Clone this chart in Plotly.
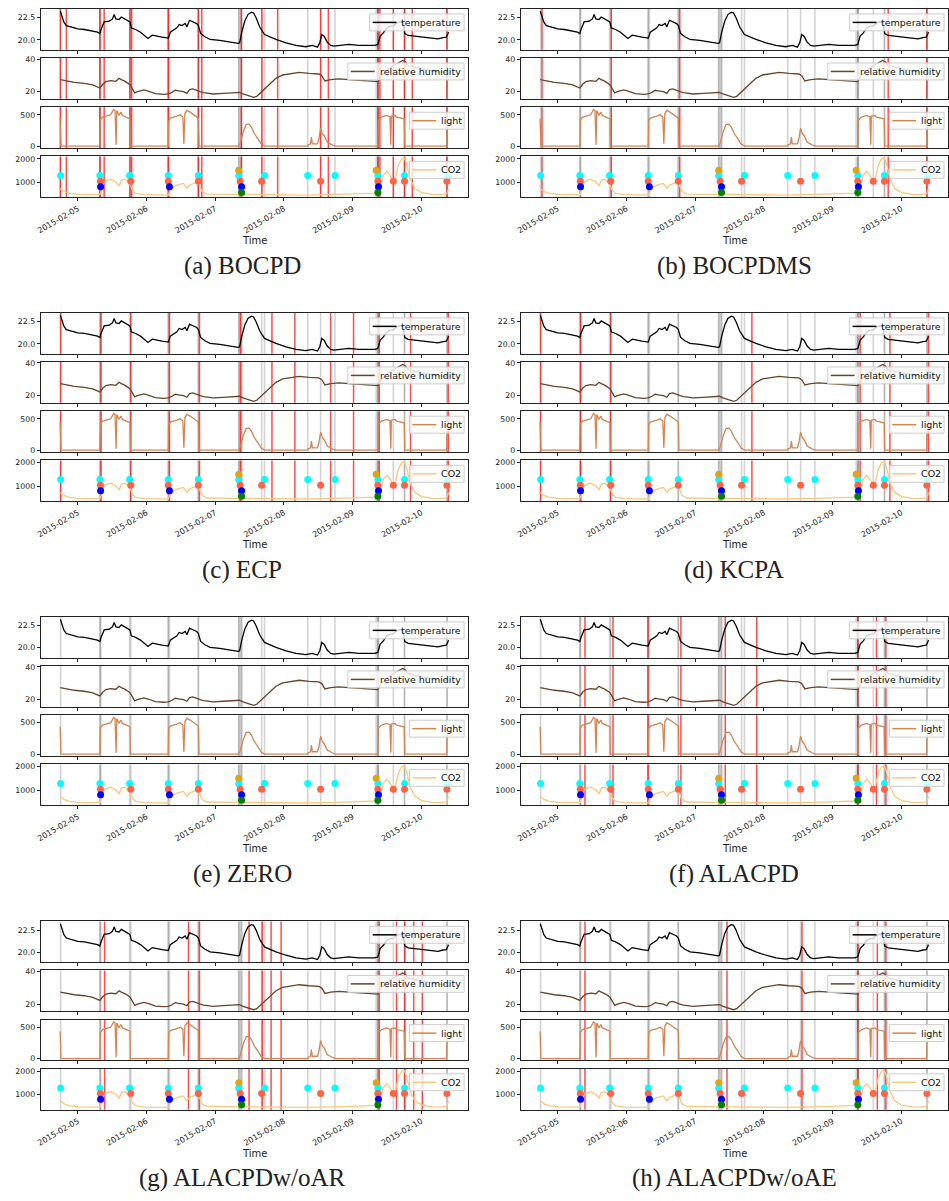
import pandas as pd
import plotly.graph_objects as go

START = pd.Timestamp("2015-02-05 00:00")

# ---------------- data (time in hours relative to 2015-02-05 00:00) ----------------
TEMP_H = [-6.1, -5.5, -4.85, -4.0, -2.3, 0.0, 2.3, 4.6, 6.9, 7.7, 8.1, 9.2, 11.0, 12.1, 12.7, 13.3, 14.4, 15.2,
          16.2, 17.5, 18.2, 18.7, 20.2, 21.9, 23.1, 24.5, 26.0, 27.7, 29.4, 31.2, 31.6, 32.3, 33.5, 34.6, 35.4,
          36.4, 37.5, 38.1, 39.0, 40.2, 41.5, 42.1, 42.9, 44.4, 46.2, 49.6, 53.1, 56.0, 56.5, 57.2, 58.3, 59.4,
          60.6, 61.4, 62.3, 63.5, 65.2, 66.9, 69.2, 72.7, 76.2, 79.6, 81.9, 83.7, 84.5, 85.2, 86.0, 87.1, 88.3,
          89.4, 91.2, 94.6, 98.1, 101.5, 103.8, 104.8, 105.6, 106.7, 107.9, 109.0, 110.2, 111.3, 112.5, 113.5,
          114.2, 115.4, 118.8, 122.3, 125.8, 127.5, 128.7, 129.5]
TEMP_V = [23.21, 22.65, 21.98, 21.60, 21.42, 21.23, 21.16, 21.01, 20.86, 20.71, 21.16, 22.01, 22.09, 22.35, 22.84,
          22.35, 22.28, 22.57, 22.39, 22.20, 22.01, 21.34, 21.16, 20.86, 20.52, 20.15, 20.52, 20.45, 20.30, 20.22,
          20.19, 20.86, 21.16, 21.34, 21.72, 21.60, 21.83, 21.46, 22.20, 22.01, 21.83, 21.60, 20.71, 20.34, 20.04,
          19.93, 19.78, 19.59, 19.66, 20.78, 22.09, 22.84, 23.10, 23.02, 22.46, 21.46, 20.60, 20.34, 20.04, 19.66,
          19.37, 19.22, 19.37, 19.18, 19.66, 20.60, 20.41, 19.74, 19.37, 19.29, 19.37, 19.48, 19.37, 19.40, 19.37,
          19.48, 20.41, 20.78, 21.34, 21.53, 21.55, 21.90, 22.00, 21.95, 20.70, 20.49, 20.34, 20.25, 20.10, 20.25,
          20.30, 20.85]

RH_H = [-6.1, -4.0, -1.2, 2.3, 5.2, 7.7, 8.7, 9.8, 11.5, 13.3, 14.4, 15.2, 16.7, 18.2, 19.9, 20.8, 23.1, 24.8,
        27.1, 30.0, 31.6, 32.9, 34.0, 35.2, 36.9, 38.1, 39.0, 40.2, 41.5, 42.7, 43.9, 47.3, 50.8, 54.2, 56.5, 57.7,
        60.0, 61.4, 62.5, 64.0, 65.8, 67.5, 69.2, 71.5, 75.0, 77.3, 80.8, 84.2, 85.2, 86.3, 88.3, 91.2, 94.6, 98.1,
        101.5, 104.8, 105.6, 107.9, 110.2, 112.5, 113.5, 114.5, 115.4, 117.7, 120.0, 124.6, 129.5]
RH_V = [27.35, 26.53, 25.71, 25.10, 24.08, 22.24, 24.49, 26.12, 26.73, 26.33, 28.16, 27.35, 26.12, 24.29, 19.18,
        20.0, 21.02, 20.20, 18.78, 18.37, 18.57, 19.59, 20.82, 20.41, 20.0, 18.98, 21.22, 21.63, 21.02, 20.0, 19.39,
        18.57, 18.98, 19.39, 19.59, 18.57, 17.14, 16.53, 17.14, 19.59, 22.65, 25.71, 28.16, 30.20, 31.43, 31.84,
        31.22, 30.82, 29.80, 26.53, 27.35, 27.76, 27.35, 26.94, 26.53, 26.12, 29.0, 33.0, 36.0, 38.5, 39.1, 38.0,
        36.0, 35.0, 34.0, 32.5, 31.5]

LIGHT_H = [-6.15, -5.9, 7.7, 7.85, 8.65, 10.4, 11.5, 12.5, 13.0, 13.38, 13.62, 14.4, 15.0, 15.6, 16.7, 18.2, 18.35,
           31.6, 31.73, 32.3, 34.6, 35.8, 36.7, 37.04, 37.4, 38.1, 39.2, 41.0, 42.1, 42.34, 56.3, 56.8, 57.7, 58.8,
           59.8, 60.6, 61.7, 62.9, 64.0, 65.2, 80.3, 80.5, 81.3, 81.57, 81.9, 83.7, 84.2, 84.8, 85.4, 86.0, 87.1,
           88.8, 90.0, 104.8, 104.9, 106.1, 107.9, 109.0, 109.3, 109.5, 110.8, 111.3, 113.1, 114.0, 114.2, 128.8,
           129.0]
LIGHT_V = [436, 0, 0, 420, 463, 479, 500, 585, 569, 21, 569, 489, 543, 489, 463, 436, 0, 0, 404, 447, 479, 500,
           463, 37, 516, 569, 543, 489, 447, 0, 0, 64, 223, 346, 351, 303, 197, 117, 37, 0, 0, 21, 37, 144, 37, 37,
           117, 287, 197, 170, 64, 21, 0, 0, 410, 463, 489, 468, 21, 479, 489, 463, 447, 436, 0, 0, 410]

CO2_H = [-6.1, -4.6, -2.9, 0.0, 3.5, 7.7, 8.1, 9.2, 10.4, 11.5, 13.3, 14.4, 15.2, 16.4, 17.5, 18.2, 19.0, 20.2,
         23.1, 27.7, 31.6, 32.3, 33.5, 34.6, 35.8, 36.9, 38.1, 39.0, 40.4, 41.5, 42.3, 43.3, 45.0, 48.5, 55.4, 56.3,
         60.0, 66.9, 78.5, 90.0, 101.5, 104.8, 105.6, 106.7, 107.9, 109.0, 110.2, 110.8, 111.9, 113.1, 114.0, 114.8,
         116.0, 117.7, 120.0, 123.5, 126.9, 128.8, 129.5]
CO2_V = [732, 592, 521, 479, 465, 465, 592, 1014, 1085, 1127, 1014, 845, 1085, 1127, 1014, 944, 662, 521, 465, 451,
         451, 662, 803, 873, 901, 944, 732, 873, 944, 1014, 944, 620, 493, 479, 465, 479, 479, 465, 451, 479, 521,
         535, 803, 1296, 1465, 1296, 1014, 1085, 1718, 2000, 2028, 1789, 1155, 732, 563, 479, 465, 507, 732]

# annotator change points (hours) and the CO2 level where each annotator's dots are drawn
CYAN_H = [-6.0, 7.7, 18.1, 31.6, 42.1, 56.2, 65.2, 80.3, 89.8, 104.8, 114.1, 129.0]
TOMATO_H = [7.9, 18.5, 31.6, 42.1, 56.7, 64.2, 84.8, 104.8, 110.2, 114.1, 128.9]
BLUE_H = [7.96, 32.0, 57.2, 105.0]
GOLD_H = [56.2, 104.2]
GREEN_H = [57.2, 104.8]
ANNOT_LEVELS = [1282, 1042, 803, 1507, 563]
ANNOT_COLORS = ["#00FFFF", "#FF6347", "#0000FF", "#DAA520", "#008000"]

# detected change points (hours) per method
RED_A = [-6.1, -4.0, 7.7, 9.2, 18.2, 18.8, 31.6, 42.1, 43.3, 57.1, 64.3, 69.8, 84.8, 87.5, 104.8, 105.5, 110.2,
         114.1, 116.8, 128.9]
RED_B = [-5.5, 18.7, 42.6, 115.4, 128.9]
RED_C = [-6.0, 8.1, 18.5, 32.0, 42.5, 56.8, 67.8, 75.8, 88.3, 96.3, 105.3, 116.2, 129.4]
RED_D = [-6.0, 8.0, 18.5, 67.8, 105.6, 116.0, 129.5]
RED_E = []
RED_F = [9.5, 19.3, 31.5, 43.0, 58.5, 69.5, 104.8, 111.3, 114.6]
RED_G = [9.35, 38.65, 42.5, 59.8, 64.4, 67.5, 71.0, 105.3, 111.3, 114.2, 117.3, 120.3]
RED_H = [9.5, 59.1, 85.3, 104.8, 111.6, 114.6]

CAPTIONS = ["(a) BOCPD", "(b) BOCPDMS", "(c) ECP", "(d) KCPA", "(e) ZERO", "(f) ALACPD",
            "(g) ALACPDw/oAR", "(h) ALACPDw/oAE"]
REDS = [RED_A, RED_B, RED_C, RED_D, RED_E, RED_F, RED_G, RED_H]

SERIES_NAMES = ["temperature", "relative humidity", "light", "CO2"]
SERIES_COLORS = ["#000000", "#69432A", "#D38555", "#FFC77F"]
Y_RANGES = [[18.88, 23.47], [15.6, 40.6], [-31, 620], [357, 2100]]
Y_TICKVALS = [[20.0, 22.5], [20, 40], [0, 500], [1000, 2000]]
Y_TICKTEXT = [["20.0", "22.5"], ["20", "40"], ["0", "500"], ["1000", "2000"]]
X_TICKS = ["2015-02-05", "2015-02-06", "2015-02-07", "2015-02-08", "2015-02-09", "2015-02-10"]

SERIES_H = [TEMP_H, RH_H, LIGHT_H, CO2_H]
SERIES_V = [TEMP_V, RH_V, LIGHT_V, CO2_V]
ANNOT_H = [CYAN_H, TOMATO_H, BLUE_H, GOLD_H, GREEN_H]
for hh, vv in zip(SERIES_H, SERIES_V):
    assert len(hh) == len(vv)


def to_time(hours):
    return [START + pd.Timedelta(hours=h) for h in hours]


# ---------------- layout geometry (pixels) ----------------
W, H = 949, 1201
PANEL_TOP = [6, 311.5, 617, 923]
PANEL_LEFT = [36, 519]
PW = 430
SUB_OFF = [0, 49.3, 98.8, 148.2]
SUB_H = 41
CAPTION_X = [239, 734]
LEGEND_W = [95, 117, 55, 55]      # legend box widths (px) per series
LEG_H = 17


def px(x):
    return x / W


def py(y):
    return 1 - y / H


all_h = TEMP_H + RH_H + LIGHT_H + CO2_H
h_lo, h_hi = min(all_h), max(all_h)
pad = 0.05 * (h_hi - h_lo)
X_RANGE = [START + pd.Timedelta(hours=h_lo - pad), START + pd.Timedelta(hours=h_hi + pad)]

ANNOT_ALL = [h for lst in ANNOT_H for h in lst]

fig = go.Figure()
layout = dict(width=W, height=H, autosize=False, margin=dict(l=0, r=0, t=0, b=0),
              paper_bgcolor="white", plot_bgcolor="white", showlegend=False,
              font=dict(family="DejaVu Sans", size=8, color="#222222"))
shapes = []
annotations = []

series_times = [to_time(hh) for hh in SERIES_H]

for p, caption in enumerate(CAPTIONS):
    row, col = divmod(p, 2)
    top = PANEL_TOP[row]
    left = PANEL_LEFT[col]
    for j in range(4):
        k = p * 4 + j + 1
        s = "" if k == 1 else str(k)
        xref, yref = "x" + s, "y" + s
        y_top = top + SUB_OFF[j]
        y_bot = y_top + SUB_H
        layout["xaxis" + s] = dict(
            domain=[px(left), px(left + PW)], anchor=yref, type="date", range=X_RANGE,
            showline=True, mirror=True, linecolor="#222222", linewidth=1,
            ticks="outside", ticklen=3, tickwidth=1, tickcolor="#222222",
            tickvals=X_TICKS, tickformat="%Y-%m-%d", showticklabels=(j == 3), tickangle=-30,
            tickfont=dict(size=8, family="DejaVu Sans", color="#222222"),
            showgrid=False, zeroline=False, fixedrange=True)
        layout["yaxis" + s] = dict(
            domain=[py(y_bot), py(y_top)], anchor=xref, range=Y_RANGES[j],
            showline=True, mirror=True, linecolor="#222222", linewidth=1,
            ticks="outside", ticklen=3, tickwidth=1, tickcolor="#222222",
            tickvals=Y_TICKVALS[j], ticktext=Y_TICKTEXT[j],
            tickfont=dict(size=7.8, family="DejaVu Sans", color="#222222"),
            showgrid=False, zeroline=False, fixedrange=True)

        fig.add_trace(go.Scatter(
            x=series_times[j], y=SERIES_V[j], mode="lines",
            line=dict(color=SERIES_COLORS[j], width=1.3),
            name=SERIES_NAMES[j], xaxis=xref, yaxis=yref, showlegend=False))

        if j == 3:
            for hh, lvl, colr in zip(ANNOT_H, ANNOT_LEVELS, ANNOT_COLORS):
                fig.add_trace(go.Scatter(
                    x=to_time(hh), y=[lvl] * len(hh), mode="markers",
                    marker=dict(color=colr, size=7, line=dict(width=0)),
                    xaxis=xref, yaxis=yref, showlegend=False, hoverinfo="skip"))

        for h in ANNOT_ALL:
            t = START + pd.Timedelta(hours=h)
            shapes.append(dict(type="line", xref=xref, yref=yref + " domain", x0=t, x1=t, y0=0, y1=1,
                               line=dict(color="rgba(128,128,128,0.35)", width=1.6), layer="below"))
        for h in REDS[p]:
            t = START + pd.Timedelta(hours=h)
            shapes.append(dict(type="line", xref=xref, yref=yref + " domain", x0=t, x1=t, y0=0, y1=1,
                               line=dict(color="rgba(255,0,0,0.7)", width=1.5), layer="below"))

        # legend box drawn by hand (matplotlib style, upper right)
        bx1 = left + PW - 4
        bx0 = bx1 - LEGEND_W[j]
        by0 = y_top + 5
        by1 = by0 + LEG_H
        ymid = (by0 + by1) / 2
        shapes.append(dict(type="rect", xref="paper", yref="paper", x0=px(bx0), x1=px(bx1),
                           y0=py(by1), y1=py(by0), fillcolor="rgba(255,255,255,0.8)",
                           line=dict(color="#cccccc", width=1), layer="above"))
        shapes.append(dict(type="line", xref="paper", yref="paper", x0=px(bx0 + 3), x1=px(bx0 + 27),
                           y0=py(ymid), y1=py(ymid), line=dict(color=SERIES_COLORS[j], width=1.5),
                           layer="above"))
        annotations.append(dict(text=SERIES_NAMES[j], x=px(bx0 + 30), y=py(ymid), xref="paper", yref="paper",
                                xanchor="left", yanchor="middle", showarrow=False,
                                font=dict(size=9.5, family="DejaVu Sans", color="#111111")))

    annotations.append(dict(text="Time", x=px(left + PW / 2), y=py(top + 233), xref="paper",
                            yref="paper", xanchor="center", yanchor="middle", showarrow=False,
                            font=dict(size=10, family="DejaVu Sans", color="#222222")))
    annotations.append(dict(text=caption, x=px(CAPTION_X[col]), y=py(top + 258), xref="paper",
                            yref="paper", xanchor="center", yanchor="middle", showarrow=False,
                            font=dict(size=25, family="Liberation Serif", color="#222222")))

layout["shapes"] = shapes
layout["annotations"] = annotations
fig.update_layout(**layout)
fig.write_html("out.html", config={"displayModeBar": False},
               post_script="document.body.style.margin='0';document.body.style.overflow='hidden';")
